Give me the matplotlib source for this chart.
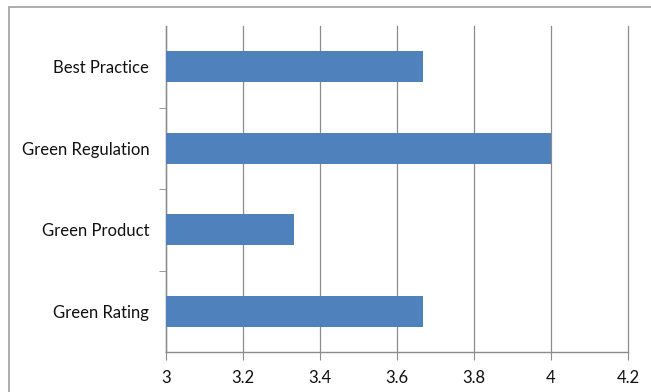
import matplotlib
matplotlib.use("Agg")
import matplotlib.pyplot as plt
from matplotlib.patches import Rectangle

# Dati del grafico
categories = ["Green Rating", "Green Product", "Green Regulation", "Best Practice"]
values = [3.667, 3.333, 4.0, 3.667]
x_ticks = [3, 3.2, 3.4, 3.6, 3.8, 4, 4.2]
x_labels = ["3", "3.2", "3.4", "3.6", "3.8", "4", "4.2"]

bar_color = "#4F81BD"
grey = "#8c8c8c"

plt.rcParams["font.family"] = ["Lato", "DejaVu Sans"]

fig = plt.figure(figsize=(6.51, 3.92), dpi=100)
ax = fig.add_axes([166 / 651, 40 / 392, 462 / 651, 326 / 392])

# Cornice esterna (solo sopra e a sinistra visibili)
fig.patches.append(Rectangle((9 / 651, -0.1), 1.2, (392 - 7) / 392 + 0.1,
                             transform=fig.transFigure, fill=False,
                             edgecolor="#a0a0a0", linewidth=1.2, zorder=0))

# Barre (partono da 3)
base = x_ticks[0]
ax.barh(range(len(categories)), [v - base for v in values], left=base,
        height=0.38, color=bar_color, zorder=3)

ax.set_xlim(x_ticks[0], x_ticks[-1])
ax.set_ylim(-0.5, len(categories) - 0.5)

ax.set_xticks(x_ticks)
ax.set_xticklabels(x_labels, fontsize=12, color="#111111")
ax.set_yticks(range(len(categories)))
ax.set_yticklabels(categories, fontsize=12, color="#111111")

# Tacche asse y tra le categorie
ax.set_yticks([i + 0.5 for i in range(len(categories) - 1)], minor=True)
ax.tick_params(axis="y", which="major", length=0, pad=12)
ax.tick_params(axis="y", which="minor", length=5, color=grey, direction="out")
ax.tick_params(axis="x", length=6, color=grey, direction="out", pad=7)

# Griglia verticale (anche l'ultima linea a 4.2 deve vedersi)
ax.grid(axis="x", color=grey, linewidth=0.9, zorder=0)
for line in ax.get_xgridlines():
    line.set_clip_on(False)
ax.set_axisbelow(True)

for side in ["top", "right"]:
    ax.spines[side].set_visible(False)
for side in ["left", "bottom"]:
    ax.spines[side].set_color(grey)
    ax.spines[side].set_linewidth(1.0)

fig.savefig("out.png", dpi=100)
